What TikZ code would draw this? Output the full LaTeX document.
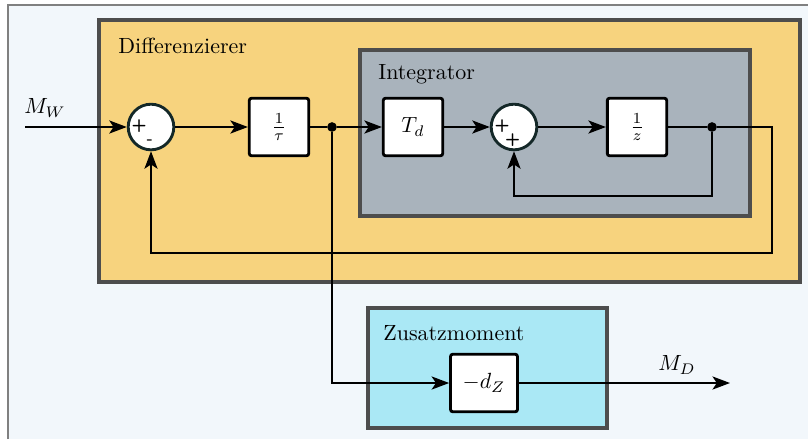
\documentclass[tikz,border=0pt]{standalone}
\usepackage{xcolor}
\usepackage{tikz}
\usetikzlibrary{arrows.meta, positioning, calc}
\definecolor{diffcolor}{RGB}{247, 211, 126}
\definecolor{integcolor}{RGB}{169, 179, 188}
\definecolor{zusatzcolor}{RGB}{170, 232, 245}
\definecolor{framegray}{RGB}{77, 77, 77}
\definecolor{sumcolor}{RGB}{20, 40, 40}
\definecolor{lightbg}{RGB}{242, 247, 251}

\tikzset{
    block/.style={draw, fill=white, line width=1.3pt, rounded corners=1pt,
                  minimum width=0.95cm, minimum height=0.92cm, inner sep=2pt},
    sumnode/.style={circle, draw=sumcolor, fill=white, line width=1.3pt,
                    minimum size=0.73cm, inner sep=0pt},
    group/.style={draw=framegray, line width=1.5pt},
    signal/.style={line width=0.7pt, -{Stealth[length=8pt, width=6pt, inset=2pt]}},
    wire/.style={line width=0.7pt},
    junction/.style={circle, fill, inner sep=0pt, minimum size=4.4pt},
    sign/.style={font=\sffamily\bfseries\footnotesize, inner sep=0pt}
}

\begin{document}
\begin{tikzpicture}
    \useasboundingbox (0,0) rectangle (12.928,7.024);
    % page frame
    \fill[lightbg] (0.128,0) rectangle (12.928,6.944);
    \draw[gray, line width=0.6pt] (0.128,0) -- (0.128,6.944) -- (12.928,6.944);

    % groups
    \draw[group, fill=diffcolor] (1.584,2.512) rectangle (12.8,6.704);
    \node[anchor=west] (difflabel) at (1.77,6.288) {Differenzierer};
    \draw[group, fill=integcolor] (5.76,3.568) rectangle (12.0,6.224);
    \node[anchor=west] (intlabel) at (5.93,5.84) {Integrator};
    \draw[group, fill=zusatzcolor] (5.888,0.176) rectangle (9.712,2.096);
    \node[anchor=west] (zuslabel) at (6.01,1.696) {Zusatzmoment};

    % blocks
    \node[sumnode] (sumA) at (2.416,4.992) {};
    \node[block] (tau) at (4.464,4.992) {$\frac{1}{\tau}$};
    \node[block] (Td) at (6.608,4.992) {$T_d$};
    \node[sumnode] (sumB) at (8.224,4.992) {};
    \node[block] (zinv) at (10.192,4.992) {$\frac{1}{z}$};
    \node[block, minimum width=1.07cm] (dZ) at (7.744,0.896) {$-d_Z$};

    % signs
    \node[sign] (sumAplus) at ($(sumA)+(-0.19,0.02)$) {+};
    \node[sign] (sumAminus) at ($(sumA)+(-0.02,-0.24)$) {-};
    \node[sign] (sumBplus) at ($(sumB)+(-0.19,0.02)$) {+};
    \node[sign] (sumBplusb) at ($(sumB)+(-0.02,-0.21)$) {+};

    % junctions and ends
    \node[junction] (jA) at (5.312,4.992) {};
    \node[junction] (jB) at (11.392,4.992) {};
    \coordinate (in) at (0.4,4.992);
    \coordinate (out) at (11.68,0.896);
    \coordinate (turnA) at (12.352,2.976);
    \coordinate (turnB) at (11.392,3.888);

    % signals
    \draw[signal] (in) -- (sumA.west);
    \draw[signal] (sumA) -- (tau);
    \draw[wire] (tau) -- (jA);
    \draw[signal] (jA) -- (Td);
    \draw[signal] (Td) -- (sumB);
    \draw[signal] (sumB) -- (zinv);
    \draw[wire] (zinv) -- (jB);
    \draw[signal] (jB) -| (turnA) -| (sumA.south);
    \draw[signal] (jB) -- (turnB) -| (sumB.south);
    \draw[signal] (jA) |- (dZ.west);
    \draw[signal] (dZ) -- (out);

    % labels
    \node (MW) at (0.72,5.296) {$M_W$};
    \node (MD) at (10.832,1.184) {$M_D$};
\end{tikzpicture}
\end{document}
